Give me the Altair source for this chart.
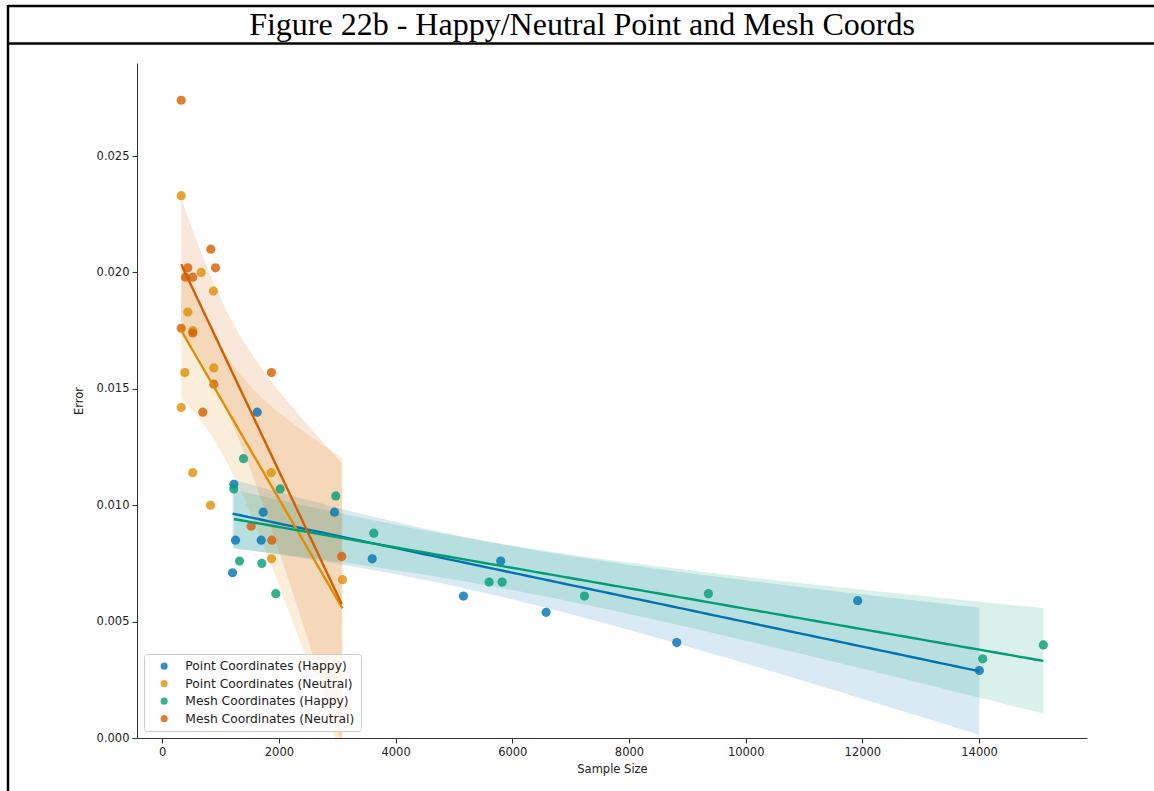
import altair as alt
import numpy as np
import pandas as pd

# Sample sizes and errors for each coordinate type / expression
point_happy_x = [1205, 1227, 1256, 1628, 1696, 1731, 2953, 3599, 5163, 5802, 6580, 8818, 11920, 14005]
point_happy_y = [0.0071, 0.0109, 0.0085, 0.0140, 0.0085, 0.0097, 0.0097, 0.0077, 0.0061, 0.0076, 0.0054, 0.0041, 0.0059, 0.0029]

point_neutral_x = [326, 326, 387, 439, 524, 524, 668, 828, 879, 884, 1868, 1873, 3090]
point_neutral_y = [0.0233, 0.0142, 0.0157, 0.0183, 0.0175, 0.0114, 0.0200, 0.0100, 0.0192, 0.0159, 0.0114, 0.0077, 0.0068]

mesh_happy_x = [1227, 1325, 1393, 1707, 1947, 2022, 2975, 3626, 5603, 5826, 7237, 9361, 14062, 15102]
mesh_happy_y = [0.0107, 0.0076, 0.0120, 0.0075, 0.0062, 0.0107, 0.0104, 0.0088, 0.0067, 0.0067, 0.0061, 0.0062, 0.0034, 0.0040]

mesh_neutral_x = [326, 326, 399, 439, 524, 524, 696, 833, 884, 913, 1525, 1873, 1878, 3078]
mesh_neutral_y = [0.0274, 0.0176, 0.0198, 0.0202, 0.0198, 0.0174, 0.0140, 0.0210, 0.0152, 0.0202, 0.0091, 0.0157, 0.0085, 0.0078]

series_names = [
    "Point Coordinates (Happy)",
    "Point Coordinates (Neutral)",
    "Mesh Coordinates (Happy)",
    "Mesh Coordinates (Neutral)",
]
series_colors = ["#0173b2", "#de8f05", "#029e73", "#d55e00"]

x_ticks = [0, 2000, 4000, 6000, 8000, 10000, 12000, 14000]
y_ticks = [0.000, 0.005, 0.010, 0.015, 0.020, 0.025]

title_text = "Figure 22b - Happy/Neutral Point and Mesh Coords"

series_data = [
    (point_happy_x, point_happy_y),
    (point_neutral_x, point_neutral_y),
    (mesh_happy_x, mesh_happy_y),
    (mesh_neutral_x, mesh_neutral_y),
]

# two-sided 95% t critical values by degrees of freedom
T95 = {10: 2.228, 11: 2.201, 12: 2.179, 13: 2.160}


def linear_fit(xs, ys, n=100):
    x = np.asarray(xs, float)
    y = np.asarray(ys, float)
    slope, intercept = np.polyfit(x, y, 1)
    grid = np.linspace(x.min(), x.max(), n)
    yhat = intercept + slope * grid
    resid = y - (intercept + slope * x)
    dof = len(x) - 2
    s = np.sqrt(np.sum(resid ** 2) / dof)
    sxx = np.sum((x - x.mean()) ** 2)
    half = T95[dof] * s * np.sqrt(1.0 / len(x) + (grid - x.mean()) ** 2 / sxx)
    return grid, yhat, yhat - half, yhat + half


point_rows, fit_rows = [], []
for name, (xs, ys) in zip(series_names, series_data):
    for xv, yv in zip(xs, ys):
        point_rows.append({"series": name, "size": xv, "error": yv})
    grid, yhat, lo, hi = linear_fit(xs, ys)
    for g, f, l, h in zip(grid, yhat, lo, hi):
        fit_rows.append({"series": name, "size": g, "fit": f, "lo": l, "hi": h})

points = pd.DataFrame(point_rows)
fits = pd.DataFrame(fit_rows)

x_scale = alt.Scale(domain=[-432, 15850], nice=False, zero=False)
y_scale = alt.Scale(domain=[0, 0.029], nice=False, zero=False)
color_scale = alt.Scale(domain=series_names, range=series_colors)

x_axis = alt.Axis(values=x_ticks, format="d", title="Sample Size", titlePadding=6)
y_axis = alt.Axis(values=y_ticks, format=".3f", title="Error", titlePadding=12)

# confidence bands and fitted lines, one layer per series in its own colour
band_layers, line_layers = [], []
for name, col in zip(series_names, series_colors):
    sub = fits[fits["series"] == name]
    band_layers.append(
        alt.Chart(sub).mark_area(opacity=0.15, clip=True, color=col).encode(
            x=alt.X("size:Q", scale=x_scale),
            y=alt.Y("lo:Q", scale=y_scale),
            y2="hi:Q",
        )
    )
    line_layers.append(
        alt.Chart(sub).mark_line(strokeWidth=2.4, color=col).encode(
            x=alt.X("size:Q", scale=x_scale),
            y=alt.Y("fit:Q", scale=y_scale),
        )
    )

dots = alt.Chart(points).mark_circle(size=85, opacity=0.8).encode(
    x=alt.X("size:Q", scale=x_scale, axis=x_axis),
    y=alt.Y("error:Q", scale=y_scale, axis=y_axis),
    color=alt.Color(
        "series:N",
        scale=color_scale,
        sort=series_names,
        legend=alt.Legend(
            title=None,
            orient="none",
            legendX=7,
            legendY=591,
            padding=6,
            symbolOffset=8,
            labelOffset=15,
            rowPadding=4.5,
            symbolSize=50,
            symbolType="circle",
            symbolOpacity=0.8,
            labelFontSize=12.3,
            labelFont="DejaVu Sans",
            labelColor="#222222",
            labelLimit=300,
            strokeColor="#cccccc",
            fillColor="rgba(255,255,255,0.8)",
            cornerRadius=3,
        ),
    ),
)

# caption box above the plot: heading text and its frame lines
frame = pd.DataFrame({"t": [title_text]})
heading = alt.Chart(frame).mark_text(
    font="Liberation Serif", fontSize=32, baseline="alphabetic", align="center", color="black"
).encode(text="t:N", x=alt.value(445), y=alt.value(-28))
top_rule = alt.Chart(frame).mark_rule(strokeWidth=2.5, color="black").encode(
    x=alt.value(-129), x2=alt.value(1030), y=alt.value(-57)
)
mid_rule = alt.Chart(frame).mark_rule(strokeWidth=2.5, color="black").encode(
    x=alt.value(-129), x2=alt.value(1030), y=alt.value(-19.5)
)
left_rule = alt.Chart(frame).mark_rule(strokeWidth=2.5, color="black").encode(
    x=alt.value(-129), y=alt.value(-58), y2=alt.value(740)
)

chart = (
    alt.layer(*band_layers, dots, *line_layers, heading, top_rule, mid_rule, left_rule)
    .properties(
        width=950,
        height=675,
        padding={"left": 137, "top": 63, "right": 67, "bottom": 53},
        autosize=alt.AutoSizeParams(type="none"),
        background="white",
    )
    .configure_view(stroke=None)
    .configure_axis(
        grid=False,
        domainColor="#333333",
        domainWidth=1,
        tickColor="#333333",
        tickSize=5,
        labelFont="DejaVu Sans",
        labelFontSize=11.5,
        labelColor="#222222",
        labelPadding=3,
        titleFont="DejaVu Sans",
        titleFontSize=11.5,
        titleFontWeight="normal",
        titleColor="#222222",
    )
)

chart.save("out.html", embed_options={"renderer": "svg", "actions": False})
